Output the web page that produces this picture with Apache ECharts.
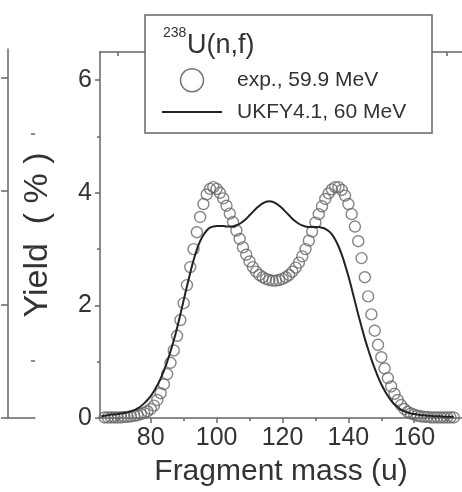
<!DOCTYPE html>
<html><head><meta charset="utf-8">
<script src="https://cdn.jsdelivr.net/npm/echarts@6/dist/echarts.min.js"></script>
<style>html,body{margin:0;padding:0;background:#fff}#c{width:462px;height:492px}</style>
</head><body><div id="c"></div>
<script>
// ---- data ----
const expMass = [66,67,68,69,70,71,72,73,74,75,76,77,78,79,80,81,82,83,84,85,86,87,88,89,90,91,92,93,94,95,96,97,98,99,100,101,102,103,104,105,106,107,108,109,110,111,112,113,114,115,116,117,118,119,120,121,122,123,124,125,126,127,128,129,130,131,132,133,134,135,136,137,138,139,140,141,142,143,144,145,146,147,148,149,150,151,152,153,154,155,156,157,158,159,160,161,162,163,164,165,166,167,168,169,170,171,172];
const expYield = [0.01,0.01,0.01,0.01,0.01,0.01,0.02,0.02,0.03,0.04,0.05,0.07,0.09,0.12,0.16,0.22,0.32,0.44,0.6,0.78,0.98,1.2,1.46,1.74,2.04,2.36,2.68,3.0,3.3,3.57,3.8,3.97,4.07,4.1,4.07,4.0,3.9,3.77,3.63,3.48,3.33,3.18,3.03,2.9,2.78,2.68,2.6,2.54,2.5,2.47,2.45,2.44,2.44,2.45,2.47,2.5,2.54,2.6,2.67,2.76,2.87,3.0,3.15,3.31,3.47,3.62,3.76,3.89,3.99,4.06,4.1,4.1,4.05,3.95,3.8,3.62,3.4,3.14,2.84,2.5,2.16,1.84,1.55,1.3,1.08,0.88,0.71,0.56,0.43,0.32,0.23,0.16,0.11,0.08,0.06,0.04,0.03,0.02,0.02,0.01,0.01,0.01,0.01,0.01,0.01,0.01,0.01];
const calcMass = [65,66,67,68,69,70,71,72,73,74,75,76,77,78,79,80,81,82,83,84,85,86,87,88,89,90,91,92,93,94,95,96,97,98,99,100,101,102,103,104,105,106,107,108,109,110,111,112,113,114,115,116,117,118,119,120,121,122,123,124,125,126,127,128,129,130,131,132,133,134,135,136,137,138,139,140,141,142,143,144,145,146,147,148,149,150,151,152,153,154,155,156,157,158,159,160,161,162,163,164,165,166,167,168,169,170,171,172];
const calcYield = [0.03,0.04,0.05,0.06,0.06,0.07,0.08,0.09,0.1,0.12,0.14,0.17,0.21,0.26,0.32,0.39,0.48,0.58,0.7,0.84,1.0,1.18,1.38,1.6,1.84,2.09,2.34,2.58,2.8,2.99,3.14,3.25,3.33,3.38,3.4,3.41,3.41,3.41,3.4,3.4,3.4,3.42,3.45,3.49,3.54,3.6,3.66,3.72,3.77,3.81,3.84,3.85,3.84,3.81,3.77,3.72,3.66,3.6,3.54,3.49,3.45,3.42,3.4,3.39,3.39,3.39,3.39,3.38,3.36,3.32,3.26,3.17,3.05,2.9,2.72,2.52,2.3,2.07,1.84,1.62,1.41,1.22,1.04,0.88,0.73,0.6,0.49,0.39,0.31,0.24,0.19,0.15,0.12,0.1,0.08,0.07,0.06,0.05,0.05,0.04,0.04,0.03,0.03,0.03,0.02,0.02,0.02,0.02];
const xLabelValues = [80,100,120,140,160];
const xMinorValues = [70,90,110,130,150,170];
const xTopTickValues = [70,80,90,100,110,120,130,140,150,160,170];
const yLabelValues = [0,2,4,6];
const yMinorValues = [1,3,5];
const seriesNames = ['exp., 59.9 MeV','UKFY4.1, 60 MeV'];
const panelTitleSup = '238';
const panelTitleMain = 'U(n,f)';
const yName = 'Yield  ( % )';
const xName = 'Fragment mass (u)';

// ---- chart ----
const FONT = "'Liberation Sans', Arial, sans-serif";
const AX = '#666';
const TXT = '#333';
const axLine = {show:true, lineStyle:{color:AX, width:1.5}};
const tickStyle = {color:AX, width:1.5};
const chart = echarts.init(document.getElementById('c'), null, {renderer:'canvas'});
const option = {
  animation:false,
  backgroundColor:'#fff',
  grid:[
    {left:100, top:52, width:371, height:366},
    {left:-100, top:49, width:108, height:369}
  ],
  xAxis:[
    {gridIndex:0, type:'value', min:64.6, max:174.5, position:'bottom',
     axisLine:axLine,
     axisTick:{show:true, customValues:xLabelValues, length:5, lineStyle:tickStyle},
     axisLabel:{customValues:xLabelValues, fontSize:25, color:TXT, margin:8, fontFamily:FONT},
     splitLine:{show:false},
     name:xName, nameLocation:'middle', nameGap:39,
     nameTextStyle:{fontSize:30, color:TXT, fontFamily:FONT}},
    {gridIndex:0, type:'value', min:64.6, max:174.5, position:'bottom',
     axisLine:{show:false},
     axisTick:{show:true, customValues:xMinorValues, length:3, lineStyle:tickStyle},
     axisLabel:{show:false}, splitLine:{show:false}},
    {gridIndex:0, type:'value', min:64.6, max:174.5, position:'top',
     axisLine:axLine,
     axisTick:{show:true, customValues:xTopTickValues, inside:true, length:4, lineStyle:tickStyle},
     axisLabel:{show:false}, splitLine:{show:false}},
    {gridIndex:1, type:'value', min:0, max:100, position:'bottom',
     axisLine:axLine, axisTick:{show:false}, axisLabel:{show:false}, splitLine:{show:false}}
  ],
  yAxis:[
    {gridIndex:0, type:'value', min:0, max:6.5, position:'left',
     axisLine:axLine,
     axisTick:{show:true, customValues:yLabelValues, length:5, lineStyle:tickStyle},
     axisLabel:{customValues:yLabelValues, fontSize:25, color:TXT, margin:8, fontFamily:FONT},
     splitLine:{show:false},
     name:yName, nameLocation:'middle', nameGap:45,
     nameTextStyle:{fontSize:34, color:TXT, fontFamily:FONT}},
    {gridIndex:0, type:'value', min:0, max:6.5, position:'left',
     axisLine:{show:false},
     axisTick:{show:true, customValues:yMinorValues, length:3, lineStyle:tickStyle},
     axisLabel:{show:false}, splitLine:{show:false}},
    {gridIndex:1, type:'value', min:0, max:6.5, position:'right',
     axisLine:axLine,
     axisTick:{show:true, customValues:yLabelValues, inside:true, length:7, lineStyle:tickStyle},
     axisLabel:{show:false}, splitLine:{show:false}},
    {gridIndex:1, type:'value', min:0, max:6.5, position:'right',
     axisLine:{show:false},
     axisTick:{show:true, customValues:yMinorValues, inside:true, length:4, lineStyle:tickStyle},
     axisLabel:{show:false}, splitLine:{show:false}}
  ],
  legend:{
    show:true, orient:'vertical', left:157, top:63, padding:5,
    itemWidth:60, itemHeight:23, itemGap:9,
    z:6, selectedMode:false,
    textStyle:{fontSize:21, color:TXT, fontFamily:FONT, padding:[0,0,0,10]},
    data:[
      {name:seriesNames[0], icon:'circle', itemStyle:{color:'rgba(255,255,255,0)', borderColor:'#555', borderWidth:1.5}},
      {name:seriesNames[1], icon:'path://M0,0 L60,0 L60,2 L0,2 Z', itemStyle:{color:'#222', borderWidth:0}}
    ]
  },
  graphic:[
    {type:'rect', z:3, shape:{x:145, y:15, width:287, height:118},
     style:{fill:'#fff', stroke:AX, lineWidth:1.5}},
    {type:'text', z:5, x:163, y:26, style:{text:panelTitleSup, font:'14px ' + FONT, fill:TXT}},
    {type:'text', z:5, x:187, y:32, style:{text:panelTitleMain, font:'27px ' + FONT, fill:TXT}}
  ],
  series:[
    {type:'scatter', name:seriesNames[0], xAxisIndex:0, yAxisIndex:0,
     data:expMass.map((m,i)=>[m, expYield[i]]),
     symbol:'circle', symbolSize:11,
     itemStyle:{color:'rgba(255,255,255,0)', borderColor:'#666', borderWidth:1.4}, z:2},
    {type:'line', name:seriesNames[1], xAxisIndex:0, yAxisIndex:0,
     data:calcMass.map((m,i)=>[m, calcYield[i]]),
     symbol:'none', showSymbol:false, smooth:0.3,
     lineStyle:{color:'#222', width:2}, itemStyle:{color:'#222'}, z:3}
  ]
};
chart.setOption(option);
</script>
</body></html>
